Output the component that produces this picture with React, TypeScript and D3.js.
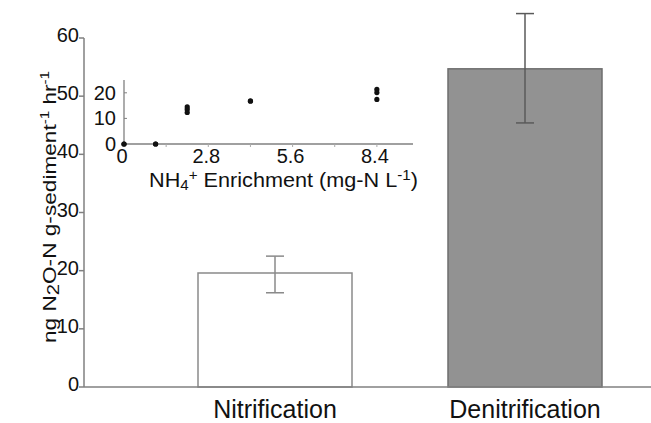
import { scaleBand, scaleLinear, range } from 'd3';

const W = 651;
const H = 423;
const FONT = '"Liberation Sans", Arial, Helvetica, sans-serif';

// main bar chart
const categories = ['Nitrification', 'Denitrification'];
const rates = [19.6, 54.7];
const errLow = [16.2, 45.4];
const errHigh = [22.5, 64.2];
const yTicks = [0, 10, 20, 30, 40, 50, 60];

// inset scatter: NH4+ enrichment vs nitrification rate
const enrichment = [0, 0, 1.05, 1.05, 2.1, 2.1, 2.1, 4.2, 4.2, 8.4, 8.4, 8.4];
const response = [0, 0, 0, 0, 14.5, 13.5, 12.3, 16.7, 16.9, 21.3, 20.1, 17.4];
const insetXLabels = [0, 2.8, 5.6, 8.4];
const insetYTicks = [0, 10, 20];

export default function App() {
  const y = scaleLinear().domain([0, 60]).range([387, 38]);
  const x = scaleBand<string>()
    .domain(categories)
    .range([150, 650])
    .paddingInner(0.384)
    .paddingOuter(0.192);

  const ix = scaleLinear().domain([0, 9.6]).range([124, 413]);
  const iy = scaleLinear().domain([0, 25]).range([144, 80]);
  const minorTicks = range(0, 9.6, 1.4);

  const axisColor = '#808080';
  const ink = '#111';

  return (
    <svg
      width={W}
      height={H}
      viewBox={`0 0 ${W} ${H}`}
      style={{ position: 'absolute', left: 0, top: 0, background: '#fff' }}
      fontFamily={FONT}
    >
      <rect width={W} height={H} fill="#fff" />

      {/* bars */}
      {categories.map((c, i) => (
        <rect
          key={c}
          x={x(c)}
          y={y(rates[i])}
          width={x.bandwidth()}
          height={y(0) - y(rates[i])}
          fill={i === 0 ? '#ffffff' : '#929292'}
          stroke={i === 0 ? '#8a8a8a' : '#6e6e6e'}
          strokeWidth={1.5}
        />
      ))}

      {/* error bars */}
      {categories.map((c, i) => {
        const cx = (x(c) ?? 0) + x.bandwidth() / 2;
        const col = i === 0 ? '#8a8a8a' : '#5a5a5a';
        return (
          <g key={c} stroke={col} strokeWidth={1.5}>
            <line x1={cx} x2={cx} y1={y(errHigh[i])} y2={y(errLow[i])} />
            <line x1={cx - 9} x2={cx + 9} y1={y(errHigh[i])} y2={y(errHigh[i])} />
            <line x1={cx - 9} x2={cx + 9} y1={y(errLow[i])} y2={y(errLow[i])} />
          </g>
        );
      })}

      {/* main y axis */}
      <line x1={84} x2={84} y1={y(60)} y2={y(0)} stroke={axisColor} strokeWidth={1.5} />
      {yTicks.map((t) => (
        <g key={t}>
          <line x1={79} x2={84} y1={y(t)} y2={y(t)} stroke={axisColor} strokeWidth={1.5} />
          <text x={79} y={y(t) + 4} textAnchor="end" fontSize={20} fill={ink}>
            {t}
          </text>
        </g>
      ))}

      {/* main x axis */}
      <line x1={84} x2={W} y1={y(0)} y2={y(0)} stroke={axisColor} strokeWidth={1.5} />
      {categories.map((c) => (
        <text
          key={c}
          x={(x(c) ?? 0) + x.bandwidth() / 2}
          y={418}
          textAnchor="middle"
          fontSize={25}
          fill={ink}
        >
          {c}
        </text>
      ))}

      {/* y axis title */}
      <text
        transform="translate(56,207) rotate(-90)"
        textAnchor="middle"
        fontSize={18}
        fill={ink}
        textLength={272}
        lengthAdjust="spacingAndGlyphs"
      >
        ng N
        <tspan fontSize={16} dy={3}>2</tspan>
        <tspan dy={-3}>O-N g-sediment</tspan>
        <tspan fontSize={12} dy={-7}>-1</tspan>
        <tspan dy={7}> hr</tspan>
        <tspan fontSize={12} dy={-7}>-1</tspan>
      </text>

      {/* inset axes */}
      <line x1={ix(0)} x2={ix(0)} y1={iy(25)} y2={iy(0)} stroke={axisColor} strokeWidth={1.3} />
      <line x1={ix(0)} x2={ix(9.6)} y1={iy(0)} y2={iy(0)} stroke={axisColor} strokeWidth={1.3} />
      {insetYTicks.map((t) => (
        <g key={t}>
          <line x1={ix(0)} x2={ix(0) + 3} y1={iy(t)} y2={iy(t)} stroke={axisColor} strokeWidth={1} />
          <text x={116} y={iy(t) + 7} textAnchor="end" fontSize={20} fill={ink}>
            {t}
          </text>
        </g>
      ))}
      {minorTicks.map((t) => (
        <line
          key={t}
          x1={ix(t)}
          x2={ix(t)}
          y1={iy(0)}
          y2={iy(0) + 3}
          stroke="#aaa"
          strokeWidth={1}
        />
      ))}
      {insetXLabels.map((t) => (
        <text key={t} x={ix(t) - 2} y={163} textAnchor="middle" fontSize={20} fill={ink}>
          {t}
        </text>
      ))}
      <text x={149} y={187} fontSize={20} fill={ink} textLength={269} lengthAdjust="spacingAndGlyphs">
        NH
        <tspan fontSize={14} dy={3}>4</tspan>
        <tspan fontSize={14} dy={-10}>+</tspan>
        <tspan dy={7}> Enrichment (mg-N L</tspan>
        <tspan fontSize={14} dy={-7}>-1</tspan>
        <tspan dy={7}>)</tspan>
      </text>

      {/* inset points */}
      {enrichment.map((e, i) => (
        <circle key={i} cx={ix(e)} cy={iy(response[i])} r={2.6} fill="#111" />
      ))}
    </svg>
  );
}
